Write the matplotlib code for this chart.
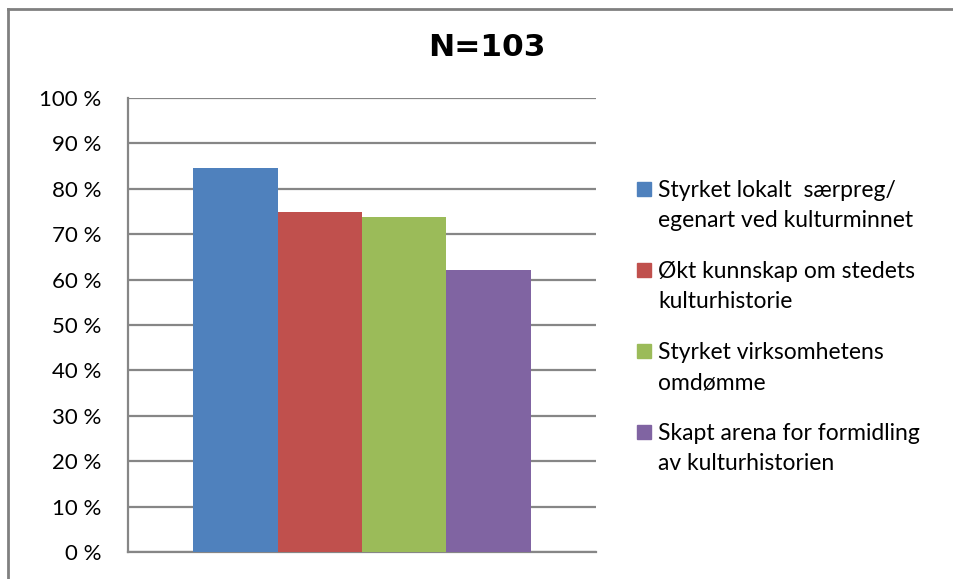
import matplotlib.pyplot as plt
from matplotlib.lines import Line2D
from matplotlib.patches import Rectangle

# Andel av respondentene (N=103) per effekt
kategorier = [
    "Styrket lokalt  særpreg/\negenart ved kulturminnet",
    "Økt kunnskap om stedets\nkulturhistorie",
    "Styrket virksomhetens\nomdømme",
    "Skapt arena for formidling\nav kulturhistorien",
]
andel = [84.5, 74.8, 73.8, 62.1]
farger = ["#4f81bd", "#c0504d", "#9bbb59", "#8064a2"]
yticks = list(range(0, 101, 10))
ytick_labels = [f"{v} %" for v in yticks]

W, H = 954, 579
fig = plt.figure(figsize=(W / 100, H / 100), dpi=100)
ax = fig.add_axes([128 / W, 1 - 552 / H, 468 / W, 454 / H])

pos = range(len(andel))
ax.bar(pos, andel, width=1.0, color=farger, zorder=3)
ax.set_xlim(-1.27, 4.27)
ax.set_ylim(0, 100)
ax.set_yticks(yticks)
ax.set_yticklabels(ytick_labels, family="Lato", fontsize=16)
ax.set_xticks([])
ax.tick_params(axis="y", length=0, pad=19)
ax.grid(axis="y", color="#868686", linewidth=1.6, zorder=0)
for side in ["top", "right"]:
    ax.spines[side].set_visible(False)
for side in ["left", "bottom"]:
    ax.spines[side].set_color("#868686")
    ax.spines[side].set_linewidth(1.6)

fig.text(487 / W, 1 - 47 / H, "N=103", ha="center", va="center",
         family="DejaVu Sans", fontweight="bold", fontsize=22.5)

# Forklaring til høyre
y0 = 189
for i, (navn, farge) in enumerate(zip(kategorier, farger)):
    yc = y0 + i * 81
    fig.add_artist(Rectangle((637 / W, 1 - (yc + 7) / H), 14 / W, 14 / H,
                             transform=fig.transFigure, color=farge))
    fig.text(658 / W, 1 - (yc - 9) / H, navn, ha="left", va="top",
             family="Lato", fontsize=16.5, linespacing=1.55)

# Ramme rundt diagrammet
fig.add_artist(Line2D([8.5 / W, 1], [1 - 8.5 / H] * 2, color="#808080", lw=2,
                      transform=fig.transFigure))
fig.add_artist(Line2D([8.5 / W] * 2, [0, 1 - 8.5 / H], color="#808080", lw=2,
                      transform=fig.transFigure))

fig.savefig("out.png", dpi=100)
